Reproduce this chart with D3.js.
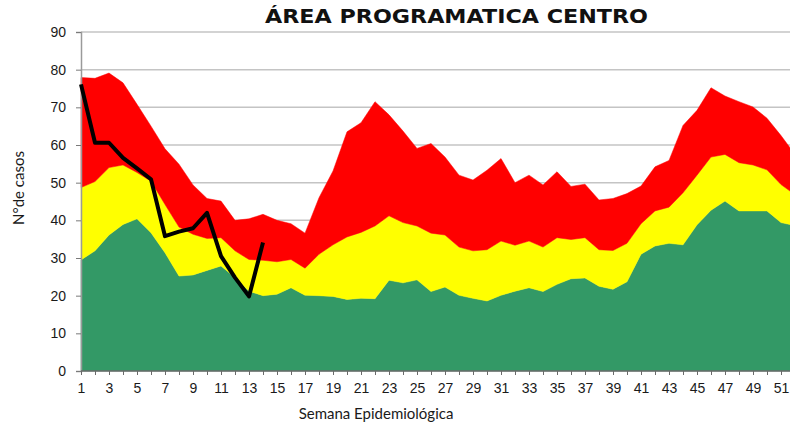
<!DOCTYPE html>
<meta charset="utf-8">
<script src="https://d3js.org/d3.v7.min.js"></script>
<style>
  body { margin: 0; background: #fff; }
  .tick text { font-family: "Liberation Sans", Arial, sans-serif; font-size: 14px; fill: #1a1a1a; }
  .axisTitle { font-family: Lato, "Open Sans", sans-serif; font-size: 15px; fill: #1a1a1a; }
</style>
<svg></svg>
<script>

// DATA

var weeks = d3.range(1, 53);

// upper edge of each band (zona de exito / seguridad / alerta)
var exito = [29.5, 31.9, 36.1, 38.9, 40.4, 36.7, 31.4, 25.2, 25.5, 26.7, 27.9, 24.8, 21.2, 20.0, 20.4, 22.1,
  20.1, 20.0, 19.8, 19.0, 19.3, 19.2, 24.1, 23.4, 24.2, 21.1, 22.3, 20.1, 19.3, 18.6, 20.1, 21.2, 22.1, 21.1,
  23.0, 24.5, 24.7, 22.5, 21.7, 23.7, 31.0, 33.2, 33.9, 33.5, 38.8, 42.7, 45.1, 42.5, 42.5, 42.5, 39.4, 38.6];
var seguridad = [48.7, 50.3, 54.0, 54.7, 52.7, 50.4, 44.2, 38.2, 36.3, 35.2, 35.4, 31.9, 29.6, 29.4, 29.0, 29.6,
  27.3, 31.0, 33.5, 35.6, 36.8, 38.5, 41.2, 39.4, 38.5, 36.6, 36.1, 32.9, 31.9, 32.2, 34.5, 33.4, 34.5, 32.9,
  35.4, 34.9, 35.4, 32.2, 32.0, 33.9, 39.1, 42.5, 43.5, 47.3, 52.0, 56.8, 57.5, 55.3, 54.7, 53.4, 49.5, 46.8];
var alerta = [77.9, 77.7, 79.1, 76.5, 70.8, 65.0, 59.0, 54.9, 49.4, 45.8, 45.1, 40.0, 40.4, 41.6, 40.0, 39.1,
  36.6, 46.0, 53.1, 63.5, 65.9, 71.5, 68.0, 63.7, 59.1, 60.4, 56.8, 52.0, 50.7, 53.3, 56.4, 50.0, 52.0, 49.4,
  52.9, 49.0, 49.6, 45.4, 45.8, 47.1, 49.1, 54.2, 55.9, 65.2, 69.2, 75.2, 73.0, 71.5, 70.1, 67.1, 62.5, 57.5];

// casos del año en curso (semanas 1 a 14)
var casos = [76.1, 60.6, 60.6, 56.6, 53.8, 50.9, 35.8, 37.0, 37.9, 42.0, 30.5, 24.8, 19.8, 34.1];

var yTicks = [0, 10, 20, 30, 40, 50, 60, 70, 80, 90];

// GLOBALS

var width = 790;
var height = 428;
var x0 = 81, x1 = 795;   // week 1 .. week 52 (last one falls past the edge)
var yTop = 32, yBottom = 371;

var svg = d3.select("svg")
    .attr("width", width)
    .attr("height", height);

var x = d3.scaleLinear().domain([1, 52]).range([x0, x1]);
var y = d3.scaleLinear().domain([0, 90]).range([yBottom, yTop]);

// GRIDLINES

svg.append("g")
  .selectAll("line")
  .data(yTicks.slice(1))
  .enter().append("line")
    .attr("x1", x0)
    .attr("x2", width)
    .attr("y1", function(d) { return y(d); })
    .attr("y2", function(d) { return y(d); })
    .style("stroke", "#c4c4c4")
    .style("stroke-width", 1.5);

// BANDS

var bands = [
  { lower: null, upper: exito, color: "#339966" },
  { lower: exito, upper: seguridad, color: "#ffff00" },
  { lower: seguridad, upper: alerta, color: "#ff0000" }
];

bands.forEach(function(b) {
  var area = d3.area()
      .x(function(d, i) { return x(weeks[i]); })
      .y0(function(d, i) { return b.lower ? y(b.lower[i]) : y(0); })
      .y1(function(d, i) { return y(b.upper[i]); });
  svg.append("path")
      .datum(weeks)
      .attr("d", area)
      .style("fill", b.color)
      .style("stroke", b.color)
      .style("stroke-width", 0.5);
});

// AXES

var yAxis = svg.append("g")
    .attr("transform", "translate(" + x0 + ",0)")
    .call(d3.axisLeft(y).tickValues(yTicks).tickSize(5).tickPadding(10));
yAxis.select(".domain").style("stroke", "#9a9a9a").style("stroke-width", 1.5);
yAxis.selectAll(".tick line").style("stroke", "#7a7a7a");

var xAxis = svg.append("g")
    .attr("transform", "translate(0," + yBottom + ")")
    .call(d3.axisBottom(x).tickValues(weeks).tickSize(4).tickPadding(8)
      .tickFormat(function(d) { return d % 2 === 1 ? d : ""; }));
xAxis.select(".domain").attr("d", "M" + x0 + ",0H" + width).style("stroke", "#6a6a6a").style("stroke-width", 1.5);
xAxis.selectAll(".tick line").style("stroke", "#6a6a6a");

// CURRENT YEAR LINE

var line = d3.line()
    .x(function(d, i) { return x(weeks[i]); })
    .y(function(d) { return y(d); });

svg.append("path")
    .datum(casos)
    .attr("d", line)
    .style("fill", "none")
    .style("stroke", "#000")
    .style("stroke-width", 4)
    .style("stroke-linejoin", "round");

// TITLES

svg.append("text")
    .attr("x", 265)
    .attr("y", 23)
    .attr("textLength", 383)
    .attr("lengthAdjust", "spacingAndGlyphs")
    .style("font-family", "'DejaVu Sans', sans-serif")
    .style("font-weight", "bold")
    .style("font-size", "19px")
    .style("fill", "#111")
    .text("ÁREA PROGRAMATICA CENTRO");

svg.append("text")
    .attr("class", "axisTitle")
    .attr("transform", "translate(24,188) rotate(-90)")
    .attr("text-anchor", "middle")
    .text("N°de casos");

svg.append("text")
    .attr("class", "axisTitle")
    .attr("x", 376)
    .attr("y", 419)
    .attr("text-anchor", "middle")
    .text("Semana Epidemiológica");

</script>
